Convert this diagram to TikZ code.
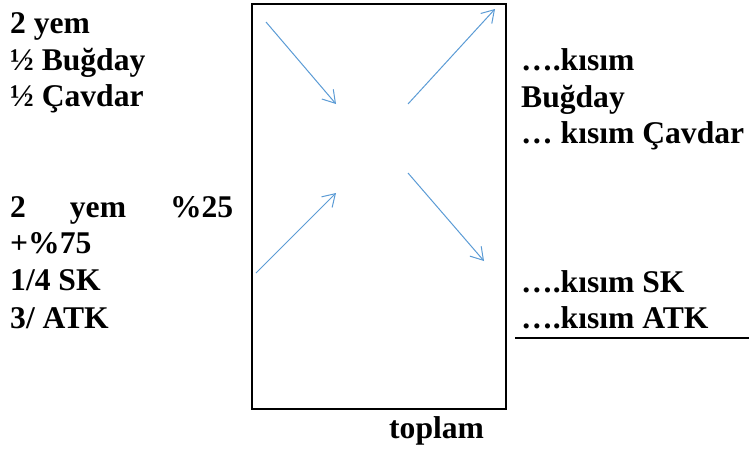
\documentclass[tikz,border=0pt]{standalone}
\usepackage{fontspec}
\setmainfont{Liberation Serif}
\usetikzlibrary{arrows.meta}
\definecolor{arrowblue}{HTML}{5B9BD5}
\begin{document}
\begin{tikzpicture}[x=1pt,y=-1pt,
  label/.style={anchor=base west,inner sep=0pt,font=\fontsize{31.6}{36}\selectfont\bfseries},
  flow/.style={draw=arrowblue,line width=1pt,-{Straight Barb[length=12pt,width=15pt,line width=1pt]}},
  frame/.style={draw=black,line width=2.2pt}]
\useasboundingbox (0,0) rectangle (749,450);

% central box
\node[frame,minimum width=254pt,minimum height=405pt,inner sep=0pt,anchor=north west] (box) at (251,3) {};

% left column: inputs
\node[label] (l1) at (10,33) {2 yem};
\node[label] (l2) at (10,70) {½ Buğday};
\node[label] (l3) at (10,106) {½ Çavdar};
\node[label] (l4) at (10,217) {\hbox to 223pt{2\hfill yem\hfill\%25}};
\node[label] (l5) at (10,253) {+\%75};
\node[label] (l6) at (10,290) {1/4 SK};
\node[label] (l7) at (10,328) {3/ ATK};

% right column: results
\node[label] (r1) at (521,70) {….kısım};
\node[label] (r2) at (521,107) {Buğday};
\node[label] (r3) at (521,143) {… kısım Çavdar};
\node[label] (r4) at (521,292) {….kısım SK};
\node[label] (r5) at (521,328) {….kısım ATK};
\coordinate (sumL) at (515,338);
\coordinate (sumR) at (749,338);
\draw[line width=2pt] (sumL) -- (sumR);

\node[label] (tot) at (389,438) {toplam};

% arrow end points
\coordinate (a1s) at (266,22);  \coordinate (a1e) at (336,104);
\coordinate (a2s) at (256,273); \coordinate (a2e) at (336,193);
\coordinate (a3s) at (408,104); \coordinate (a3e) at (495,9);
\coordinate (a4s) at (408,173); \coordinate (a4e) at (484,261);

\draw[flow] (a1s) -- (a1e);
\draw[flow] (a2s) -- (a2e);
\draw[flow] (a3s) -- (a3e);
\draw[flow] (a4s) -- (a4e);
\end{tikzpicture}
\end{document}
